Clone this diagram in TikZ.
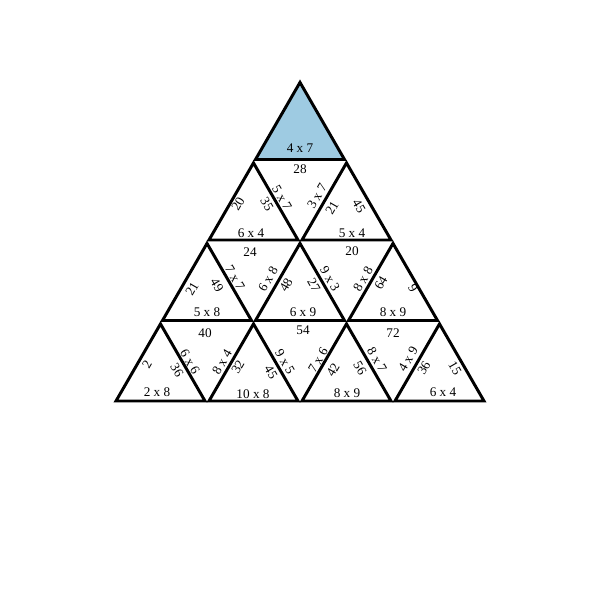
\documentclass[tikz,border=0pt]{standalone}
\usepackage{fontspec}
\setmainfont{Liberation Serif}
\usepackage{xcolor}
\usepackage{tikz}
\usetikzlibrary{calc,positioning}

\definecolor{pieceblue}{RGB}{158,203,226}

\begin{document}
\begin{tikzpicture}[x=0.25mm,y=-0.25mm]
		\tikzset{tri/.style={draw=black,line width=2.1pt}}
		\tikzset{lbl/.style={inner sep=0pt,font=\fontsize{9.4}{10}\selectfont}}
		\useasboundingbox (0,0) rectangle (600,600);

		% Apexes
		\coordinate (a1) at (300,82.4);
		\coordinate (a2) at (253.5,162.9);
		\coordinate (a3) at (346.5,162.9);
		\coordinate (a4) at (207,243.4);
		\coordinate (a5) at (300,243.4);
		\coordinate (a6) at (393,243.4);
		\coordinate (a7) at (160.5,323.9);
		\coordinate (a8) at (253.5,323.9);
		\coordinate (a9) at (346.5,323.9);
		\coordinate (a10) at (439.5,323.9);

		% Pieces
		\draw[tri,fill=pieceblue] (a1) -- ++(-44.5,77.1) -- ++(89,0) -- cycle;
		\draw[tri] (a2) -- ++(-44.5,77.1) -- ++(89,0) -- cycle;
		\draw[tri] (a3) -- ++(-44.5,77.1) -- ++(89,0) -- cycle;
		\draw[tri] (a4) -- ++(-44.5,77.1) -- ++(89,0) -- cycle;
		\draw[tri] (a5) -- ++(-44.5,77.1) -- ++(89,0) -- cycle;
		\draw[tri] (a6) -- ++(-44.5,77.1) -- ++(89,0) -- cycle;
		\draw[tri] (a7) -- ++(-44.5,77.1) -- ++(89,0) -- cycle;
		\draw[tri] (a8) -- ++(-44.5,77.1) -- ++(89,0) -- cycle;
		\draw[tri] (a9) -- ++(-44.5,77.1) -- ++(89,0) -- cycle;
		\draw[tri] (a10) -- ++(-44.5,77.1) -- ++(89,0) -- cycle;

		% Row 1
		\node[lbl] (u1b) at (300,148) {4 x 7};

		\node[lbl] (d1t) at (300,169) {28};
		\node[lbl,rotate=-60] (d1l) at (282,198) {5 x 7};
		\node[lbl,rotate=60] (d1r) at (317,196) {3 x 7};

		% Row 2
		\node[lbl,rotate=60] (u2l) at (238,204) {20};
		\node[lbl,rotate=-60] (u2r) at (267,204) {35};
		\node[lbl] (u2b) at (251,233) {6 x 4};

		\node[lbl,rotate=60] (u3l) at (332,208) {21};
		\node[lbl,rotate=-60] (u3r) at (359,206) {45};
		\node[lbl] (u3b) at (352,233) {5 x 4};

		\node[lbl] (d2t) at (250,252) {24};
		\node[lbl,rotate=-60] (d2l) at (235,278) {7 x 7};
		\node[lbl,rotate=60] (d2r) at (268,279) {6 x 8};

		\node[lbl] (d3t) at (352,251) {20};
		\node[lbl,rotate=-60] (d3l) at (330,279) {9 x 3};
		\node[lbl,rotate=60] (d3r) at (363,279) {8 x 8};

		% Row 3
		\node[lbl,rotate=60] (u4l) at (192,289) {21};
		\node[lbl,rotate=-60] (u4r) at (217,285) {49};
		\node[lbl] (u4b) at (207,312) {5 x 8};

		\node[lbl,rotate=60] (u5l) at (286,285) {48};
		\node[lbl,rotate=-60] (u5r) at (314,285) {27};
		\node[lbl] (u5b) at (303,312) {6 x 9};

		\node[lbl,rotate=60] (u6l) at (381,283) {64};
		\node[lbl,rotate=-60] (u6r) at (413,288) {9};
		\node[lbl] (u6b) at (393,312) {8 x 9};

		\node[lbl] (d4t) at (205,333) {40};
		\node[lbl,rotate=-60] (d4l) at (190,362) {6 x 6};
		\node[lbl,rotate=60] (d4r) at (222,362) {8 x 4};

		\node[lbl] (d5t) at (303,330) {54};
		\node[lbl,rotate=-60] (d5l) at (285,362) {9 x 5};
		\node[lbl,rotate=60] (d5r) at (318,360) {7 x 6};

		\node[lbl] (d6t) at (393,333) {72};
		\node[lbl,rotate=-60] (d6l) at (377,360) {8 x 7};
		\node[lbl,rotate=60] (d6r) at (408,359) {4 x 9};

		% Row 4
		\node[lbl,rotate=60] (u7l) at (147,364) {2};
		\node[lbl,rotate=-60] (u7r) at (177,370) {36};
		\node[lbl] (u7b) at (157,392) {2 x 8};

		\node[lbl,rotate=60] (u8l) at (238,367) {32};
		\node[lbl,rotate=-60] (u8r) at (271,372) {45};
		\node[lbl] (u8b) at (253,394) {10 x 8};

		\node[lbl,rotate=60] (u9l) at (333,370) {42};
		\node[lbl,rotate=-60] (u9r) at (360,368) {56};
		\node[lbl] (u9b) at (347,393) {8 x 9};

		\node[lbl,rotate=60] (u10l) at (424,368) {36};
		\node[lbl,rotate=-60] (u10r) at (455,368) {15};
		\node[lbl] (u10b) at (443,392) {6 x 4};

	\end{tikzpicture}
\end{document}
